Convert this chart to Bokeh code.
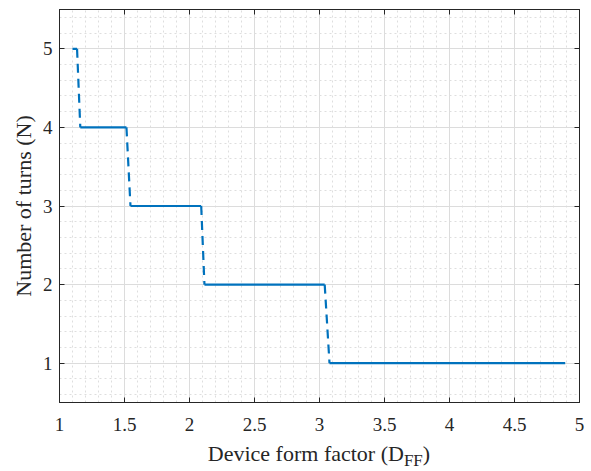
import numpy as np
from bokeh.plotting import figure
from bokeh.layouts import column
from bokeh.models import (ColumnDataSource, Range1d, LinearAxis, FixedTicker,
                          CustomJSTickFormatter, Div)
from bokeh.embed import file_html
from bokeh.resources import INLINE

# Number of turns for each band of device form factor
turns = [5, 4, 3, 2, 1]
dff_start = [1.10, 1.16, 1.546, 2.115, 3.077]   # where each level begins
dff_end = [1.135, 1.515, 2.09, 3.04, 4.89]      # where each level ends

x_ticks = [1, 1.5, 2, 2.5, 3, 3.5, 4, 4.5, 5]
y_ticks = [1, 2, 3, 4, 5]

# geometry (pixels)
W = 591
PLOT_H = 441
TITLE_H = 30
LEFT, RIGHT, TOP, BOTTOM = 59, 12, 9, 39
X0, X1 = 1.0, 5.0
Y0, Y1 = 0.5, 5.5

INK = "#262626"
BLUE = "#0072BD"
FONT = "Liberation Serif"

p = figure(width=W, height=PLOT_H, output_backend="svg", toolbar_location=None,
           x_range=Range1d(X0, X1), y_range=Range1d(Y0, Y1),
           x_axis_location=None, y_axis_location=None,
           min_border_left=LEFT, min_border_right=RIGHT,
           min_border_top=TOP, min_border_bottom=BOTTOM)
p.background_fill_color = "white"
p.border_fill_color = "white"
p.outline_line_color = INK

fmt = CustomJSTickFormatter(code="return tick.toString();")
blank = CustomJSTickFormatter(code="return '';")
xt = FixedTicker(ticks=x_ticks, minor_ticks=list(np.round(np.arange(1.0, 5.0001, 0.1), 3)))
yt = FixedTicker(ticks=y_ticks, minor_ticks=list(np.round(np.arange(0.6, 5.4001, 0.2), 3)))


def style_axis(ax):
    ax.axis_line_color = INK
    ax.axis_line_width = 1
    ax.major_tick_line_color = INK
    ax.major_tick_in = 5
    ax.major_tick_out = 0
    ax.minor_tick_in = 0
    ax.minor_tick_out = 0
    ax.major_label_text_font = FONT
    ax.major_label_text_color = INK
    ax.major_label_text_font_size = "19px"


xb = LinearAxis(ticker=xt, formatter=fmt)
style_axis(xb)
xb.major_label_standoff = 15
p.add_layout(xb, "below")

yl = LinearAxis(ticker=yt, formatter=fmt, axis_label="Number of turns (N)")
style_axis(yl)
yl.major_label_standoff = 7
yl.axis_label_standoff = 4
yl.axis_label_text_font = FONT
yl.axis_label_text_font_size = "22px"
yl.axis_label_text_font_style = "normal"
yl.axis_label_text_color = INK
p.add_layout(yl, "left")

# box axes with inward ticks only
xa = LinearAxis(ticker=xt, formatter=blank)
style_axis(xa)
xa.major_label_standoff = 0
p.add_layout(xa, "above")

yr = LinearAxis(ticker=yt, formatter=blank)
style_axis(yr)
yr.major_label_standoff = 0
p.add_layout(yr, "right")

# grid
p.xgrid.ticker = xt
p.ygrid.ticker = yt
for g in (p.xgrid, p.ygrid):
    g.grid_line_color = "#dcdcdc"
    g.grid_line_width = 1
    g.minor_grid_line_color = "#dedede"
    g.minor_grid_line_dash = "2 3"
    g.minor_grid_line_width = 1

# solid plateaus
flat = ColumnDataSource(dict(x0=dff_start, x1=dff_end, y=turns))
p.segment(x0="x0", y0="y", x1="x1", y1="y", source=flat,
          line_color=BLUE, line_width=2.2)

# dashed transitions between consecutive levels
steps = ColumnDataSource(dict(x0=dff_end[:-1], y0=turns[:-1],
                              x1=dff_start[1:], y1=turns[1:]))
p.segment(x0="x0", y0="y0", x1="x1", y1="y1", source=steps,
          line_color=BLUE, line_width=2.2, line_dash="9 6")

# x-axis title with subscript, centred under the frame
frame_w = W - LEFT - RIGHT
xtitle = Div(
    text='Device form factor (D<span style="font-size:17px;vertical-align:-5px;">FF</span>)',
    width=frame_w, height=TITLE_H, margin=(0, 0, 0, LEFT),
    styles={"font-family": "'Liberation Serif'", "font-size": "22px",
            "line-height": "26px", "color": INK, "text-align": "center",
            "width": f"{frame_w}px"},
)

layout = column(p, xtitle, spacing=0)
open("out.html", "w").write(file_html(layout, INLINE))
